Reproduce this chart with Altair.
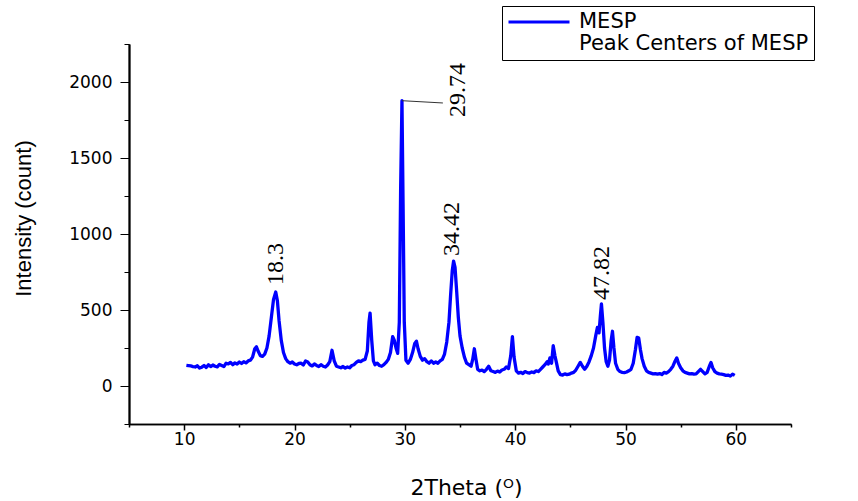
import altair as alt
import pandas as pd

# ---- data ----
two_theta = [
    10.2, 10.4, 10.6, 10.8, 11.0, 11.2, 11.4, 11.6, 11.8, 12.0, 12.2, 12.4, 12.6, 12.8, 13.0,
    13.2, 13.4, 13.6, 13.8, 14.0, 14.2, 14.4, 14.6, 14.8, 15.0, 15.2, 15.4, 15.6, 15.8, 16.0,
    16.2, 16.4, 16.55, 16.7, 16.9, 17.1, 17.3, 17.5, 17.7, 17.9, 18.1, 18.3, 18.45, 18.6, 18.8,
    19.0, 19.2, 19.4, 19.6, 19.8, 20.0, 20.2, 20.4, 20.6, 20.8, 21.0, 21.2, 21.4, 21.6, 21.8,
    22.0, 22.2, 22.4, 22.6, 22.8, 23.0, 23.2, 23.4, 23.6, 23.8, 24.0, 24.2, 24.4, 24.6, 24.8,
    25.0, 25.2, 25.4, 25.6, 25.8, 26.0, 26.2, 26.4, 26.6, 26.75, 26.85, 27.0, 27.15, 27.3, 27.5,
    27.7, 27.9, 28.1, 28.3, 28.5, 28.7, 28.9, 29.05, 29.2, 29.35, 29.5, 29.62, 29.74, 29.84, 29.95,
    30.1, 30.3, 30.5, 30.7, 30.9, 31.05, 31.2, 31.4, 31.6, 31.8, 32.0, 32.2, 32.4, 32.6, 32.8,
    33.0, 33.2, 33.4, 33.6, 33.8, 34.0, 34.15, 34.3, 34.42, 34.55, 34.7, 34.85, 35.0, 35.2, 35.4,
    35.6, 35.8, 36.0, 36.15, 36.3, 36.45, 36.6, 36.8, 37.0, 37.2, 37.4, 37.6, 37.8, 38.0, 38.2,
    38.4, 38.6, 38.8, 39.0, 39.2, 39.4, 39.6, 39.75, 39.9, 40.1, 40.3, 40.5, 40.7, 40.9, 41.1,
    41.3, 41.5, 41.7, 41.9, 42.1, 42.3, 42.5, 42.7, 42.9, 43.0, 43.15, 43.3, 43.45, 43.6, 43.75,
    43.9, 44.1, 44.3, 44.5, 44.7, 44.9, 45.1, 45.3, 45.5, 45.7, 45.9, 46.1, 46.3, 46.5, 46.7,
    46.9, 47.1, 47.3, 47.45, 47.6, 47.72, 47.82, 47.95, 48.1, 48.25, 48.4, 48.55, 48.7, 48.82, 48.95,
    49.1, 49.3, 49.5, 49.7, 49.9, 50.1, 50.3, 50.5, 50.7, 50.9, 51.05, 51.2, 51.35, 51.5, 51.7,
    51.9, 52.1, 52.3, 52.5, 52.7, 52.9, 53.1, 53.3, 53.5, 53.7, 53.9, 54.1, 54.3, 54.5, 54.65,
    54.8, 55.0, 55.2, 55.4, 55.6, 55.8, 56.0, 56.2, 56.4, 56.6, 56.8, 57.0, 57.2, 57.4, 57.6,
    57.75, 57.9, 58.1, 58.3, 58.5, 58.7, 58.9, 59.1, 59.3, 59.5, 59.7, 59.9,
]
intensity = [
    136, 134, 132, 128, 125, 133, 118, 124, 135, 122, 140, 128, 138, 130, 126,
    142, 135, 128, 150, 145, 155, 140, 152, 145, 158, 148, 160, 152, 165, 170,
    190, 245, 258, 230, 200, 195, 210, 250, 330, 450, 570, 618, 560, 430, 300,
    220, 180, 160, 150, 158, 145, 140, 148, 150, 138, 165, 158, 140, 132, 145,
    135, 128, 140, 130, 125, 138, 160, 235, 165, 130, 125, 120, 128, 118, 125,
    120, 135, 140, 155, 165, 160, 170, 175, 230, 420, 480, 300, 165, 140, 150,
    135, 130, 140, 155, 175, 220, 325, 300, 250, 215, 420, 1300, 1877, 1200, 420,
    170, 150, 175, 220, 280, 295, 245, 195, 170, 180, 160, 150, 165, 150, 158,
    150, 165, 175, 210, 290, 420, 600, 760, 822, 780, 620, 450, 330, 250, 190,
    150, 140, 130, 175, 245, 175, 110, 100, 105, 95, 110, 130, 100, 95, 90,
    98, 92, 105, 110, 125, 115, 200, 325, 190, 100, 85, 90, 82, 95, 88,
    85, 92, 88, 100, 95, 110, 125, 140, 160, 145, 185, 150, 265, 200, 150,
    100, 75, 72, 80, 75, 78, 85, 90, 105, 130, 155, 130, 110, 130, 160,
    200, 250, 330, 385, 350, 460, 540, 420, 250, 160, 130, 170, 300, 360, 250,
    150, 110, 95, 90, 88, 92, 100, 110, 150, 240, 320, 315, 240, 180, 130,
    100, 90, 85, 80, 82, 78, 82, 75, 90, 85, 95, 110, 130, 165, 185,
    150, 120, 100, 90, 85, 80, 82, 78, 80, 95, 110, 95, 80, 90, 130,
    155, 120, 95, 85, 80, 78, 75, 70, 72, 65, 78, 70,
]

peak_labels = ["18.3", "29.74", "34.42", "47.82"]
label_x = [18.35, 34.8, 34.3, 47.9]
label_y = [664, 1770, 855, 566]

leader_x = [29.74]
leader_x2 = [33.45]
leader_y = [1877]
leader_y2 = [1862]

series_names = ["MESP", "Peak Centers of MESP"]
x_major_ticks = [10, 20, 30, 40, 50, 60]
x_minor_ticks = [5, 15, 25, 35, 45, 55, 65]
y_major_ticks = [0, 500, 1000, 1500, 2000]
y_minor_ticks = [-250, 250, 750, 1250, 1750, 2250]

spectrum = pd.DataFrame({"x": two_theta, "y": intensity, "series": series_names[0]})
labels = pd.DataFrame({"x": label_x, "y": label_y, "text": peak_labels})
leader = pd.DataFrame({"x": leader_x, "x2": leader_x2, "y": leader_y, "y2": leader_y2})

x_scale = alt.Scale(domain=[5, 65], nice=False, zero=False)
y_scale = alt.Scale(domain=[-250, 2250], nice=False, zero=False)

common_x = dict(grid=False, domainColor="black", domainWidth=1.3, tickColor="black",
                tickWidth=1.5, orient="bottom")
common_y = dict(grid=False, domainColor="black", domainWidth=1.8, tickColor="black",
                tickWidth=1, orient="left")

x_axis_major = alt.Axis(
    title="2Theta (ᴼ)",
    values=x_major_ticks,
    tickSize=6,
    labelFont="DejaVu Sans",
    labelFontSize=17,
    labelColor="black",
    labelPadding=1,
    titleFont="DejaVu Sans",
    titleFontSize=22,
    titleFontWeight="normal",
    titleColor="black",
    titleX=337,
    titleY=63,
    titleBaseline="middle",
    titleAlign="center",
    **common_x,
)
y_axis_major = alt.Axis(
    title="Intensity (count)",
    values=y_major_ticks,
    format="d",
    tickSize=9,
    labelFont="DejaVu Sans",
    labelFontSize=17,
    labelColor="black",
    labelPadding=8,
    titleFont="Liberation Sans, Arial, sans-serif",
    titleFontSize=22,
    titleFontWeight="normal",
    titleColor="black",
    titleAngle=270,
    titleX=-106,
    titleY=174,
    titleBaseline="middle",
    titleAlign="center",
    **common_y,
)
x_axis_minor = alt.Axis(title=None, values=x_minor_ticks, tickSize=3, labels=False, **common_x)
y_axis_minor = alt.Axis(title=None, values=y_minor_ticks, tickSize=5, labels=False, **common_y)

line = alt.Chart(spectrum).mark_line(strokeWidth=3.3, strokeJoin="round").encode(
    x=alt.X("x:Q", scale=x_scale, axis=x_axis_major),
    y=alt.Y("y:Q", scale=y_scale, axis=y_axis_major),
    color=alt.Color(
        "series:N",
        scale=alt.Scale(domain=series_names, range=["#0000ff", "rgba(0,0,0,0)"]),
        legend=alt.Legend(
            title=None,
            orient="none",
            legendX=373,
            legendY=-38,
            symbolType="stroke",
            symbolSize=3721,
            symbolStrokeWidth=3,
            labelFont="DejaVu Sans",
            labelFontSize=21,
            labelColor="black",
            labelOffset=8,
            labelLimit=500,
            strokeColor="black",
            fillColor="white",
            padding=5,
            clipHeight=22,
            rowPadding=0,
        ),
    ),
)

leader_rule = alt.Chart(leader).mark_rule(color="#333333", strokeWidth=1).encode(
    x=alt.X("x:Q", scale=x_scale, axis=x_axis_minor),
    x2="x2:Q",
    y=alt.Y("y:Q", scale=y_scale, axis=y_axis_minor),
    y2="y2:Q",
)

peak_text = alt.Chart(labels).mark_text(
    angle=270, align="left", baseline="middle",
    font="Liberation Serif, Times New Roman, DejaVu Serif, serif", fontSize=24, color="black",
).encode(
    x=alt.X("x:Q", axis=None),
    y=alt.Y("y:Q", axis=None),
    text="text:N",
)

chart = alt.layer(line, leader_rule, peak_text).resolve_axis(
    x="independent", y="independent"
).properties(
    width=662,
    height=380,
    autosize=alt.AutoSizeParams(type="none"),
    padding={"left": 129, "top": 44, "right": 67, "bottom": 77},
    background="white",
).configure_view(stroke=None)

chart.save("out.html", embed_options={"renderer": "svg", "actions": False})
